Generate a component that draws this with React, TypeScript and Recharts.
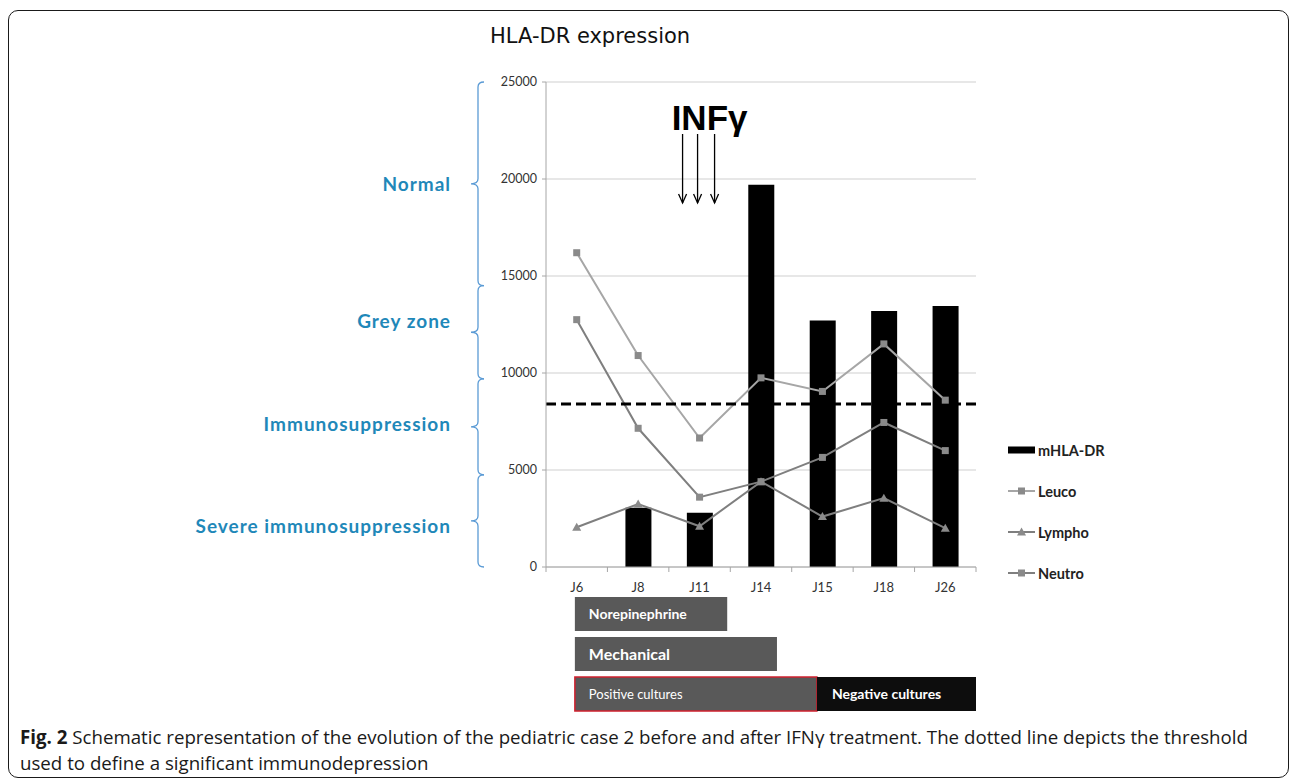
import React from "react";
import {
  ComposedChart,
  BarChart,
  Bar,
  Line,
  XAxis,
  YAxis,
  CartesianGrid,
  ReferenceLine,
  ReferenceArea,
  LabelList,
  Cell,
} from "recharts";

// sampling days and series values
const days = ["J6", "J8", "J11", "J14", "J15", "J18", "J26"];
const mhlaDr = [null, 3050, 2800, 19700, 12700, 13200, 13450];
const leuco = [16200, 10900, 6650, 9750, 9050, 11500, 8600];
const lympho = [2050, 3250, 2100, 4400, 2600, 3550, 2000];
const neutro = [12750, 7150, 3600, 4400, 5650, 7450, 6000];
const yTicks = [0, 5000, 10000, 15000, 20000, 25000];
const threshold = 8400;
const infDay = "J11";

// expression zones (left braces)
const zoneLabels = ["Normal", "Grey zone", "Immunosuppression", "Severe immunosuppression"];
const zoneTop = [25000, 14500, 9700, 4750];
const zoneBottom = [14500, 9700, 4750, 0];

// treatment / culture timeline, in day-slot units (0 = left edge of J6 slot)
const timelineRows = ["Norepinephrine", "Mechanical", "Positive cultures"];
const timelineStart = [0.47, 0.47, 0.47];
const timelineFirstEnd = [2.95, 3.76, 4.41];
const timelineSecondEnd = [null, null, 7];
const timelineSecondLabels = [null, null, "Negative cultures"];

const data = days.map((d, i) => ({
  day: d,
  mhla: mhlaDr[i],
  leuco: leuco[i],
  lympho: lympho[i],
  neutro: neutro[i],
}));

const timeline = timelineRows.map((name, i) => ({
  name,
  offset: timelineStart[i],
  first: timelineFirstEnd[i] - timelineStart[i],
  second: timelineSecondEnd[i] == null ? 0 : timelineSecondEnd[i] - timelineFirstEnd[i],
  secondLabel: timelineSecondLabels[i] || "",
}));

const FONT = "Lato, 'Open Sans', sans-serif";
const MARKER = "#8a8a8a";
// small vertical nudges of the zone captions relative to the brace tip
const ZONE_TEXT_SHIFT = [0, -11, -2, 5];

const Square = (props: any) => {
  const { cx, cy } = props;
  if (cx == null || cy == null) return null;
  return <rect x={cx - 3.5} y={cy - 3.5} width={7} height={7} fill={MARKER} />;
};

const Triangle = (props: any) => {
  const { cx, cy } = props;
  if (cx == null || cy == null) return null;
  return <polygon points={`${cx},${cy - 4.5} ${cx + 4.5},${cy + 3.5} ${cx - 4.5},${cy + 3.5}`} fill={MARKER} />;
};

function DayTick(props: any) {
  const { x, y, payload, index, visibleTicksCount } = props;
  const half = payload.offset || 30.7;
  const axisY = y - 16;
  return (
    <g>
      <line x1={x - half} y1={axisY} x2={x - half} y2={axisY + 5} stroke="#a6a6a6" />
      {index === visibleTicksCount - 1 && (
        <line x1={x + half} y1={axisY} x2={x + half} y2={axisY + 5} stroke="#a6a6a6" />
      )}
      <text x={x} y={y} dy="0.71em" textAnchor="middle" fontSize={13} fill="#333" fontFamily={FONT}>
        {payload.value}
      </text>
    </g>
  );
}

function Brace(props: any) {
  const { x, y, height, label, shift } = props;
  const bx = x - 68;
  const top = y;
  const bot = y + height;
  const mid = y + height / 2;
  const d = `M ${bx + 6} ${top} Q ${bx} ${top} ${bx} ${top + 5} L ${bx} ${mid - 5} Q ${bx} ${mid} ${bx - 7} ${mid} Q ${bx} ${mid} ${bx} ${mid + 5} L ${bx} ${bot - 5} Q ${bx} ${bot} ${bx + 6} ${bot}`;
  return (
    <g>
      <path d={d} fill="none" stroke="#5b9bd5" strokeWidth={1.3} />
      <text
        x={bx - 27}
        y={mid + shift}
        dy="0.35em"
        textAnchor="end"
        fontSize={19}
        fontWeight={700}
        letterSpacing={1}
        fill="#1f88b9"
        fontFamily={FONT}
      >
        {label}
      </text>
    </g>
  );
}

function InfLabel(props: any) {
  const { x, y } = props.viewBox;
  const arrows = [-17, -2, 15];
  return (
    <g>
      <text
        x={x + 10}
        y={y + 48}
        textAnchor="middle"
        fontSize={35}
        fontWeight={700}
        fill="#000"
        fontFamily="'Liberation Sans Narrow', 'Arial Narrow', sans-serif"
      >
        INFγ
      </text>
      {arrows.map((dx) => (
        <g key={dx}>
          <line x1={x + dx} y1={y + 52} x2={x + dx} y2={y + 121} stroke="#000" strokeWidth={1.3} />
          <path
            d={`M ${x + dx - 4} ${y + 112} L ${x + dx} ${y + 121} L ${x + dx + 4} ${y + 112}`}
            fill="none"
            stroke="#000"
            strokeWidth={1.3}
          />
        </g>
      ))}
    </g>
  );
}

const timelineText = [
  { size: 14, weight: 700 },
  { size: 16, weight: 700 },
  { size: 13, weight: 400 },
];

function FirstLabel(props: any) {
  const { x, y, height, index } = props;
  const st = timelineText[index] || timelineText[0];
  return (
    <text x={x + 14} y={y + height / 2} dy="0.35em" fill="#fff" fontSize={st.size} fontWeight={st.weight} fontFamily={FONT}>
      {timelineRows[index]}
    </text>
  );
}

function SecondLabel(props: any) {
  const { x, y, height, value } = props;
  if (!value) return null;
  return (
    <text x={x + 15} y={y + height / 2} dy="0.35em" fill="#fff" fontSize={14} fontWeight={700} fontFamily={FONT}>
      {value}
    </text>
  );
}

const legendItems = [
  { name: "mHLA-DR", kind: "bar", color: "#000" },
  { name: "Leuco", kind: "square", color: "#a6a6a6" },
  { name: "Lympho", kind: "triangle", color: "#7f7f7f" },
  { name: "Neutro", kind: "square", color: "#7f7f7f" },
];

function LegendBox() {
  return (
    <div style={{ position: "absolute", left: 1008, top: 441 }}>
      {legendItems.map((it) => (
        <div key={it.name} style={{ display: "flex", alignItems: "center", height: 18, marginBottom: 23 }}>
          <svg width={28} height={18}>
            {it.kind === "bar" ? (
              <rect x={0} y={5.5} width={27} height={7} fill="#000" />
            ) : (
              <g>
                <line x1={0} y1={9} x2={27} y2={9} stroke={it.color} strokeWidth={2} />
                {it.kind === "square" ? <Square cx={13.5} cy={9} /> : <Triangle cx={13.5} cy={9} />}
              </g>
            )}
          </svg>
          <span style={{ fontFamily: FONT, fontSize: 14.5, fontWeight: 700, color: "#222", marginLeft: 2 }}>{it.name}</span>
        </div>
      ))}
    </div>
  );
}

export default function App() {
  return (
    <div
      style={{
        position: "fixed",
        left: 0,
        top: 0,
        width: 1290,
        height: 780,
        overflow: "hidden",
        background: "#fff",
      }}
    >
      <div
        style={{
          position: "absolute",
          left: 8,
          top: 10,
          width: 1281,
          height: 768,
          border: "1.5px solid #1a1a1a",
          borderRadius: 10,
          boxSizing: "border-box",
        }}
      />
      <div
        style={{
          position: "absolute",
          left: 490,
          top: 25,
          fontFamily: "'DejaVu Sans', sans-serif",
          fontSize: 21,
          lineHeight: "22px",
          color: "#111",
        }}
      >
        HLA-DR expression
      </div>

      <div style={{ position: "absolute", left: 0, top: 0 }}>
        <ComposedChart width={1290} height={640} data={data} margin={{ top: 82, right: 314, bottom: 43, left: 486 }}>
          <CartesianGrid vertical={false} stroke="#cfcfcf" />
          <XAxis
            dataKey="day"
            height={30}
            tickSize={6}
            tickMargin={10}
            tickLine={false}
            stroke="#a6a6a6"
            tick={<DayTick />}
            interval={0}
          />
          <YAxis
            width={60}
            domain={[0, 25000]}
            ticks={yTicks}
            tickSize={4}
            tickMargin={5}
            stroke="#a6a6a6"
            tick={{ fontSize: 12.5, fill: "#333", fontFamily: FONT }}
          />
          {zoneLabels.map((lab, i) => (
            <ReferenceArea
              key={lab}
              y1={zoneBottom[i]}
              y2={zoneTop[i]}
              ifOverflow="visible"
              shape={(p: any) => <Brace {...p} label={lab} shift={ZONE_TEXT_SHIFT[i]} />}
            />
          ))}
          <Bar dataKey="mhla" fill="#000" barSize={26} isAnimationActive={false} />
          <Line dataKey="leuco" stroke="#a6a6a6" strokeWidth={2} dot={<Square />} activeDot={false} isAnimationActive={false} />
          <Line dataKey="lympho" stroke="#7f7f7f" strokeWidth={2} dot={<Triangle />} activeDot={false} isAnimationActive={false} />
          <Line dataKey="neutro" stroke="#7f7f7f" strokeWidth={2} dot={<Square />} activeDot={false} isAnimationActive={false} />
          <ReferenceLine y={threshold} stroke="#000" strokeWidth={3} strokeDasharray="10 5" />
          <ReferenceLine x={infDay} stroke="none" label={InfLabel} />
        </ComposedChart>
      </div>

      <LegendBox />

      <div style={{ position: "absolute", left: 0, top: 594 }}>
        <BarChart
          width={1290}
          height={120}
          data={timeline}
          layout="vertical"
          margin={{ top: 0, right: 314, bottom: 0, left: 546 }}
        >
          <XAxis type="number" domain={[0, 7]} hide />
          <YAxis type="category" dataKey="name" hide />
          <Bar dataKey="offset" stackId="t" fill="transparent" barSize={34} isAnimationActive={false} />
          <Bar dataKey="first" stackId="t" fill="#595959" barSize={34} isAnimationActive={false}>
            {timeline.map((row, i) => (
              <Cell key={row.name} fill="#595959" stroke={i === 2 ? "#d0202e" : "none"} strokeWidth={1.5} />
            ))}
            <LabelList dataKey="name" content={FirstLabel} />
          </Bar>
          <Bar dataKey="second" stackId="t" fill="#0d0d0d" barSize={34} isAnimationActive={false}>
            <LabelList dataKey="secondLabel" content={SecondLabel} />
          </Bar>
        </BarChart>
      </div>

      <div
        style={{
          position: "absolute",
          left: 20,
          top: 724,
          fontFamily: "'Open Sans', sans-serif",
          fontSize: 18.7,
          lineHeight: "26px",
          color: "#1a1a1a",
          whiteSpace: "nowrap",
        }}
      >
        <b>Fig. 2</b> Schematic representation of the evolution of the pediatric case 2 before and after IFNγ treatment. The dotted line depicts the threshold
        <br />
        used to define a significant immunodepression
      </div>
    </div>
  );
}
